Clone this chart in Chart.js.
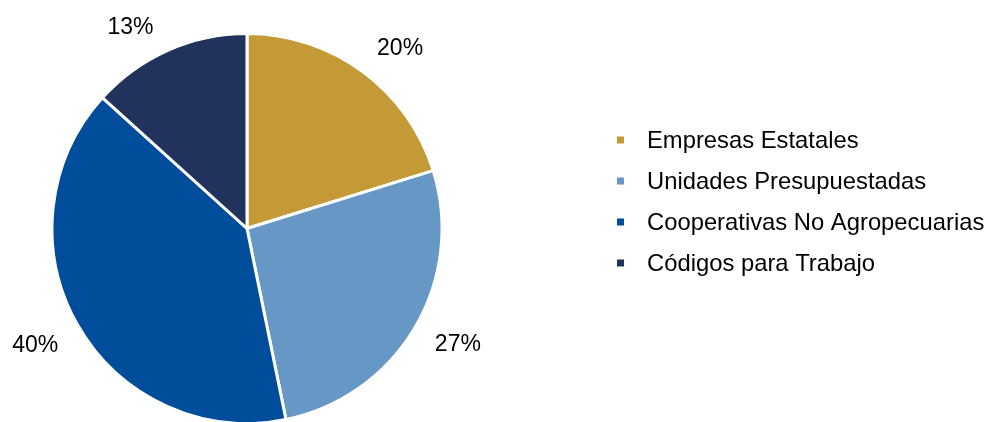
<!DOCTYPE html>
<html>
<head>
<meta charset="utf-8">
<script src="https://cdn.jsdelivr.net/npm/chart.js@4"></script>
<style>
  html, body { margin: 0; padding: 0; background: #ffffff; }
  #wrap { width: 989px; height: 422px; position: relative; }
</style>
</head>
<body>
<div id="wrap"><canvas id="c" width="989" height="422"></canvas></div>
<script>
// ---- data ----
const categories = ["Empresas Estatales", "Unidades Presupuestadas", "Cooperativas No Agropecuarias", "Códigos para Trabajo"];
const shares = [20.2, 26.6, 39.9, 13.3];
const sliceColors = ["#C49A37", "#6797C5", "#004E9B", "#21335D"];
// small nudges (px) for the outside percentage labels
const labelNudges = [[12, 10], [6, -7], [-5, -3], [-20, 15]];

const FONT = '"Liberation Sans", Arial, sans-serif';

const outsideLabels = {
  id: 'outsideLabels',
  afterDatasetsDraw(chart) {
    const ctx = chart.ctx;
    const meta = chart.getDatasetMeta(0);
    const total = shares.reduce((a, b) => a + b, 0);
    ctx.save();
    ctx.font = '23px ' + FONT;
    ctx.fillStyle = '#000000';
    ctx.textAlign = 'center';
    ctx.textBaseline = 'alphabetic';
    meta.data.forEach((arc, i) => {
      const p = arc.getProps(['x', 'y', 'startAngle', 'endAngle', 'outerRadius'], true);
      const mid = (p.startAngle + p.endAngle) / 2;
      const r = p.outerRadius + 43;
      const cx = p.x + Math.cos(mid) * r + labelNudges[i][0];
      const cy = p.y + Math.sin(mid) * r + labelNudges[i][1];
      const txt = Math.round(shares[i] / total * 100) + '%';
      ctx.fillText(txt, cx, cy + 8.2);
    });
    ctx.restore();
  }
};

const sideLegend = {
  id: 'sideLegend',
  afterDraw(chart) {
    const ctx = chart.ctx;
    const x0 = 617, y0 = 140, step = 41;
    ctx.save();
    ctx.font = '23.8px ' + FONT;
    ctx.textAlign = 'left';
    ctx.textBaseline = 'alphabetic';
    chart.data.labels.forEach((lab, i) => {
      const y = y0 + i * step;
      ctx.fillStyle = chart.data.datasets[0].backgroundColor[i];
      ctx.fillRect(x0, y - 3.5, 7, 7);
      ctx.fillStyle = '#000000';
      ctx.fillText(lab, x0 + 30, y + 8);
    });
    ctx.restore();
  }
};

new Chart(document.getElementById('c'), {
  type: 'pie',
  data: {
    labels: categories,
    datasets: [{
      data: shares,
      backgroundColor: sliceColors,
      borderColor: '#ffffff',
      borderWidth: 3,
      radius: 195
    }]
  },
  options: {
    responsive: false,
    animation: false,
    devicePixelRatio: 1,
    layout: { padding: { left: 0, right: 495, top: 35, bottom: 0 } },
    plugins: {
      legend: { display: false },
      tooltip: { enabled: false }
    }
  },
  plugins: [outsideLabels, sideLegend]
});
</script>
</body>
</html>
